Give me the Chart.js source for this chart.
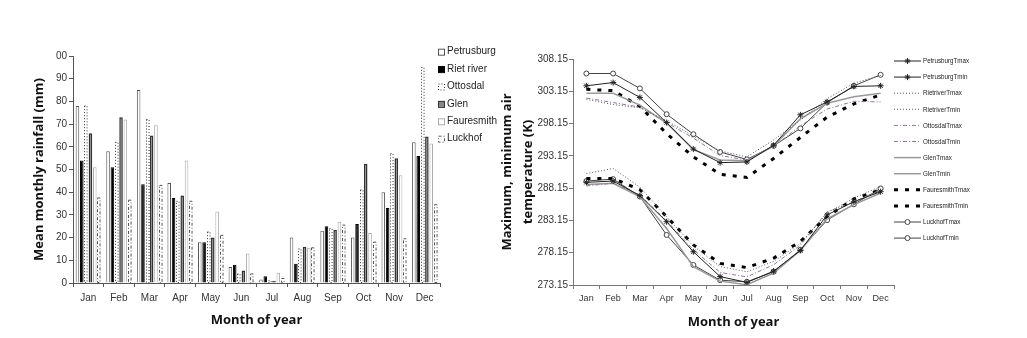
<!DOCTYPE html>
<html>
<head>
<meta charset="utf-8">
<title>Rainfall and temperature</title>
<script src="https://cdn.jsdelivr.net/npm/chart.js@4.4.1/dist/chart.umd.min.js"></script>
<style>
  body { margin: 0; background: #fff; }
  #rainChart { position: absolute; left: 0; top: 0; }
  #tempChart { position: absolute; left: 490px; top: 0; }
</style>
</head>
<body>
<canvas id="rainChart" width="515" height="338"></canvas>
<canvas id="tempChart" width="537" height="338"></canvas>
<script>
// Datos
const months = ['Jan', 'Feb', 'Mar', 'Apr', 'May', 'Jun', 'Jul', 'Aug', 'Sep', 'Oct', 'Nov', 'Dec'];

// lluvia media mensual (mm)
const petrusburgRain = [78, 58, 85, 44, 18, 7, 1.5, 20, 23, 20, 40, 62];
const rietRain       = [54, 51, 43.5, 37.5, 18, 8, 3, 8.5, 25, 26, 33, 56];
const ottosdalRain   = [78, 62, 72, 36, 22.5, 4, 1, 15, 24, 41, 57, 95];
const glenRain       = [66, 73, 65, 38.5, 20, 5.5, 1, 16, 23.5, 52.5, 55, 64.5];
const fauresmithRain = [51, 72, 69.5, 54, 31.5, 13, 4.5, 15.5, 27, 22, 47.5, 61.5];
const luckhofRain    = [37.5, 36.5, 43, 36, 21, 4, 2, 15.5, 25.5, 18, 19.5, 34.5];
const rainTicks      = [0, 10, 20, 30, 40, 50, 60, 70, 80, 90, 100];
const rainTickLabels = ['0', '10', '20', '30', '40', '50', '60', '70', '80', '90', '00'];

// temperatura máxima / mínima (K)
const petrusburgTmax = [304.0, 304.5, 302.2, 298.3, 294.2, 292.1, 292.2, 294.8, 299.5, 301.5, 303.9, 304.0];
const petrusburgTmin = [289.05, 289.25, 287.0, 282.95, 278.3, 274.45, 273.55, 275.3, 278.5, 284.0, 286.05, 287.6];
const rietTmax       = [301.9, 301.1, 300.6, 298.6, 296.2, 293.9, 293.0, 295.6, 298.7, 302.0, 304.4, 305.6];
const rietTmin       = [290.4, 291.2, 288.3, 283.7, 279.2, 276.0, 275.2, 276.8, 279.6, 284.3, 286.6, 288.4];
const ottosdalTmax   = [302.1, 301.4, 300.7, 298.3, 295.9, 293.2, 292.5, 294.6, 297.8, 300.4, 301.6, 301.5];
const ottosdalTmin   = [288.5, 288.9, 287.1, 283.1, 278.6, 275.1, 274.4, 276.3, 279.3, 284.5, 286.0, 287.9];
const glenTmax       = [302.85, 302.85, 301.0, 298.2, 294.1, 292.5, 292.4, 294.7, 298.9, 301.3, 302.3, 302.85];
const glenTmin       = [288.7, 288.9, 286.8, 281.9, 276.0, 273.75, 273.2, 275.0, 278.5, 283.4, 285.6, 287.4];
const fauresmithTmax = [303.45, 303.25, 300.8, 296.6, 293.0, 290.3, 289.8, 292.75, 296.0, 299.15, 301.2, 302.6];
const fauresmithTmin = [289.65, 289.65, 287.9, 283.75, 279.35, 276.5, 275.85, 277.3, 279.9, 283.75, 286.5, 287.9];
const luckhofTmax    = [305.9, 305.9, 303.6, 299.6, 296.5, 293.75, 292.6, 294.7, 297.4, 301.4, 304.0, 305.7];
const luckhofTmin    = [289.25, 289.55, 286.85, 280.9, 276.25, 273.9, 273.65, 275.2, 278.6, 283.2, 285.65, 288.1];
const tempTicks      = [273.15, 278.15, 283.15, 288.15, 293.15, 298.15, 303.15, 308.15];
const tempTickLabels = ['273.15', '278.15', '283.15', '288.15', '293.15', '298.15', '303.15', '308.15'];

const tickFont = { family: "'Liberation Sans', Arial, sans-serif", size: 10 };
const titleFont = { family: "'Open Sans', sans-serif", size: 13, weight: 'bold' };

// Barras con borde punteado (Chart.js no lo hace solo)
const dashedBars = {
    id: 'dashedBars',
    afterDatasetsDraw(chart) {
        const ctx = chart.ctx;
        chart.data.datasets.forEach((ds, i) => {
            if (!ds.outlineDash) return;
            const meta = chart.getDatasetMeta(i);
            ctx.save();
            ctx.strokeStyle = ds.outlineColor;
            ctx.lineWidth = 1;
            ctx.setLineDash(ds.outlineDash);
            meta.data.forEach(bar => {
                const p = bar.getProps(['x', 'y', 'base', 'width'], true);
                const left = Math.round(p.x - p.width / 2) + 0.5;
                ctx.strokeRect(left, p.y, p.width - 1, p.base - p.y);
            });
            ctx.restore();
        });
    }
};

// Leyenda en posición fija
const fixedLegend = {
    id: 'fixedLegend',
    afterDraw(chart, args, opts) {
        const ctx = chart.ctx;
        ctx.save();
        ctx.font = opts.font;
        ctx.textBaseline = 'middle';
        chart.data.datasets.forEach((ds, i) => {
            const y = opts.y + i * opts.step;
            if (opts.kind === 'box') {
                const s = 6;
                ctx.fillStyle = ds.legendFill || ds.backgroundColor;
                ctx.fillRect(opts.x, y - s / 2, s, s);
                ctx.strokeStyle = ds.outlineColor || ds.borderColor;
                ctx.lineWidth = 1;
                ctx.setLineDash(ds.outlineDash || []);
                ctx.strokeRect(opts.x + 0.5, y - s / 2 + 0.5, s, s);
                ctx.setLineDash([]);
            } else {
                ctx.strokeStyle = ds.borderColor;
                ctx.lineWidth = ds.borderWidth;
                ctx.setLineDash(ds.borderDash || []);
                ctx.beginPath();
                ctx.moveTo(opts.x, y);
                ctx.lineTo(opts.x + opts.lineLength, y);
                ctx.stroke();
                ctx.setLineDash([]);
                if (ds.pointRadius > 0) {
                    ctx.fillStyle = ds.pointBackgroundColor;
                    ctx.strokeStyle = ds.pointBorderColor;
                    ctx.lineWidth = 1;
                    Chart.helpers.drawPoint(ctx, {
                        pointStyle: ds.pointStyle, rotation: 0,
                        radius: ds.pointRadius, borderWidth: 1
                    }, opts.x + opts.lineLength / 2, y);
                }
            }
            // texto algo estrecho, como en el original
            const sx = opts.textScale || 1;
            ctx.save();
            ctx.translate(opts.x + opts.textGap, y);
            ctx.scale(sx, 1);
            ctx.fillStyle = opts.color;
            ctx.fillText(ds.label, 0, 0);
            ctx.restore();
        });
        ctx.restore();
    }
};

// Gráfico de lluvia
new Chart(document.getElementById('rainChart'), {
    type: 'bar',
    data: {
        labels: months,
        datasets: [
            { label: 'Petrusburg', data: petrusburgRain, backgroundColor: '#fff', borderColor: '#555', borderWidth: 1 },
            { label: 'Riet river', data: rietRain, backgroundColor: '#000', borderColor: '#000', borderWidth: 1 },
            { label: 'Ottosdal', data: ottosdalRain, backgroundColor: 'rgba(0,0,0,0)', borderWidth: 0,
              outlineDash: [1, 2], outlineColor: '#333', legendFill: '#fff' },
            { label: 'Glen', data: glenRain, backgroundColor: '#888', borderColor: '#333', borderWidth: 1.5 },
            { label: 'Fauresmith', data: fauresmithRain, backgroundColor: '#fff', borderColor: '#aaa', borderWidth: 1 },
            { label: 'Luckhof', data: luckhofRain, backgroundColor: 'rgba(0,0,0,0)', borderWidth: 0,
              outlineDash: [3, 2, 1, 2], outlineColor: '#555', legendFill: '#fff' }
        ]
    },
    options: {
        responsive: false,
        animation: false,
        layout: { padding: { left: 0, right: 75, top: 56, bottom: 0 } },
        datasets: { bar: { categoryPercentage: 0.85, barPercentage: 0.82 } },
        plugins: {
            legend: { display: false },
            tooltip: { enabled: false },
            fixedLegend: { kind: 'box', x: 438, y: 51.7, step: 17.4, textGap: 9,
                           font: "10px 'Liberation Sans', Arial, sans-serif", color: '#222' }
        },
        scales: {
            x: {
                grid: { display: true, drawOnChartArea: false, offset: true, tickLength: 4, color: '#555' },
                border: { color: '#555' },
                ticks: { font: tickFont, color: '#333', padding: 5, maxRotation: 0, autoSkip: false },
                title: { display: true, text: 'Month of year', font: titleFont, color: '#111', padding: { top: 0, bottom: 10 } },
                afterFit: s => { s.height = 55; }
            },
            y: {
                min: 0,
                max: 100,
                afterBuildTicks: s => { s.ticks = rainTicks.map(v => ({ value: v })); },
                grid: { display: true, drawOnChartArea: false, tickLength: 4, color: '#555' },
                border: { color: '#555' },
                ticks: { font: tickFont, color: '#333', padding: 2, callback: (v, i) => rainTickLabels[i] },
                title: { display: true, text: 'Mean monthly rainfall (mm)', font: titleFont, color: '#111', padding: { top: 31, bottom: 0 } },
                afterFit: s => { s.width = 73; }
            }
        }
    },
    plugins: [dashedBars, fixedLegend]
});

// Gráfico de temperaturas
function tempLine(label, data, color, width, dash, pointStyle, radius) {
    return {
        label: label, data: data, borderColor: color, borderWidth: width, borderDash: dash,
        pointStyle: pointStyle, pointRadius: radius, pointBorderColor: color,
        pointBackgroundColor: pointStyle === 'circle' ? '#fff' : color, pointBorderWidth: 1,
        tension: 0, fill: false
    };
}

new Chart(document.getElementById('tempChart'), {
    type: 'line',
    data: {
        labels: months,
        datasets: [
            tempLine('PetrusburgTmax', petrusburgTmax, '#222', 1, [], 'star', 3),
            tempLine('PetrusburgTmin', petrusburgTmin, '#222', 1, [], 'star', 3),
            tempLine('RietriverTmax', rietTmax, '#555', 1, [1, 2], 'circle', 0),
            tempLine('RietriverTmin', rietTmin, '#555', 1, [1, 2], 'circle', 0),
            tempLine('OttosdalTmax', ottosdalTmax, '#8d7a93', 1, [4, 2, 1, 2], 'circle', 0),
            tempLine('OttosdalTmin', ottosdalTmin, '#8d7a93', 1, [4, 2, 1, 2], 'circle', 0),
            tempLine('GlenTmax', glenTmax, '#999', 1.5, [], 'circle', 0),
            tempLine('GlenTmin', glenTmin, '#999', 1.5, [], 'circle', 0),
            tempLine('FauresmithTmax', fauresmithTmax, '#000', 3, [4, 7], 'circle', 0),
            tempLine('FauresmithTmin', fauresmithTmin, '#000', 3, [4, 7], 'circle', 0),
            tempLine('LuckhofTmax', luckhofTmax, '#444', 1, [], 'circle', 2.5),
            tempLine('LuckhofTmin', luckhofTmin, '#444', 1, [], 'circle', 2.5)
        ]
    },
    options: {
        responsive: false,
        animation: false,
        layout: { padding: { left: 0, right: 133, top: 59, bottom: 0 } },
        plugins: {
            legend: { display: false },
            tooltip: { enabled: false },
            fixedLegend: { kind: 'line', x: 404, y: 61, step: 16.1, lineLength: 27, textGap: 29, textScale: 0.78,
                           font: "8px 'Liberation Sans', Arial, sans-serif", color: '#222' }
        },
        scales: {
            x: {
                offset: true,
                grid: { display: true, drawOnChartArea: false, offset: true, tickLength: 4, color: '#777' },
                border: { color: '#777' },
                ticks: { font: { family: tickFont.family, size: 9 }, color: '#333', padding: 4, maxRotation: 0, autoSkip: false },
                title: { display: true, text: 'Month of year', font: titleFont, color: '#111', padding: { top: 0, bottom: 8 } },
                afterFit: s => { s.height = 53; }
            },
            y: {
                min: 273.15,
                max: 308.15,
                afterBuildTicks: s => { s.ticks = tempTicks.map(v => ({ value: v })); },
                grid: { display: true, drawOnChartArea: false, tickLength: 4, color: '#777' },
                border: { color: '#777' },
                ticks: { font: tickFont, color: '#333', padding: 1, callback: (v, i) => tempTickLabels[i] },
                title: {
                    display: true,
                    text: ['Maximum, minimum air', 'temperature (K)'],
                    font: { family: titleFont.family, size: 13, weight: 'bold', lineHeight: 1.6 },
                    color: '#111',
                    padding: { top: 6.6, bottom: 0 }
                },
                afterFit: s => { s.width = 83; }
            }
        }
    },
    plugins: [fixedLegend]
});
</script>
</body>
</html>
